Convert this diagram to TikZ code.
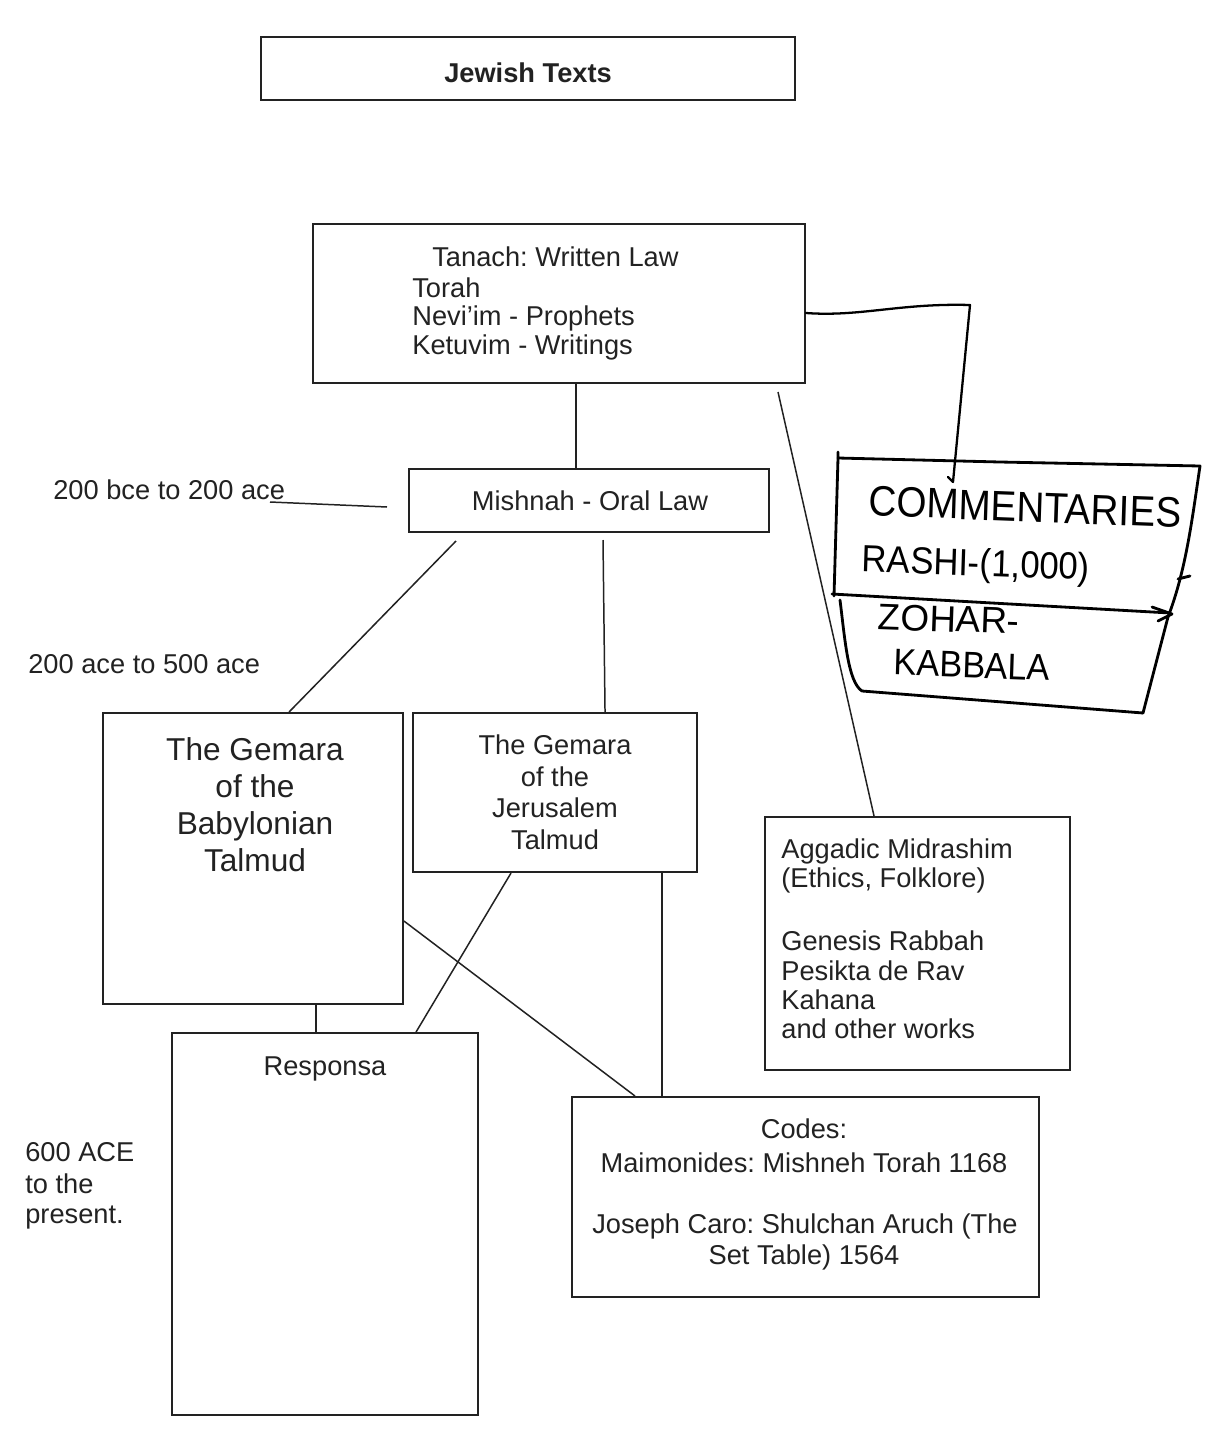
\documentclass[tikz,border=0pt]{standalone}
\usepackage{fontspec}
\setmainfont{Liberation Sans}
\newfontfamily\handfont{Liberation Sans}
\usetikzlibrary{calc}
\definecolor{ink}{HTML}{222222}
\frenchspacing
\begin{document}
\frenchspacing
\begin{tikzpicture}[x=0.02cm,y=-0.02cm,
  box/.style 2 args={draw=ink,line width=1.1pt,inner sep=0pt,
    minimum width=#1*0.02cm,minimum height=#2*0.02cm},
  txt/.style={font=\fontsize{15.5pt}{18pt}\selectfont,inner sep=0pt,text=ink},
  bigtxt/.style={font=\fontsize{18pt}{21pt}\selectfont,inner sep=0pt,text=ink},
  conn/.style={draw=ink,line width=0.85pt},
  hand/.style={draw=black,line width=1.6pt,line cap=round,line join=round},
  handtxt/.style={font=\handfont\fontsize{22pt}{24pt}\selectfont,inner sep=0pt,text=black}]
\fill[white] (0,0) rectangle (1229,1430);
\useasboundingbox (0,0) rectangle (1229,1430);

% boxes
\node[box={534}{63}] (jt) at (528,68.5) {};
\node[box={492}{159}] (tanach) at (559,303.5) {};
\node[box={360}{63}] (mishnah) at (589,500.5) {};
\node[box={300}{291}] (babylon) at (253,858.5) {};
\node[box={284}{159}] (jeru) at (555,792.5) {};
\node[box={305}{253}] (aggadic) at (917.5,943.5) {};
\node[box={306}{382}] (resp) at (325,1224) {};
\node[box={467}{200}] (codes) at (805.5,1197) {};

% texts
\node[txt,font=\fontsize{15.5pt}{18pt}\selectfont\bfseries,anchor=base] (jtt) at (528,82) {Jewish Texts};

\node[txt,anchor=base west] (tn1) at (432,266) {Tanach: Written Law};
\node[txt,anchor=base west] (tn2) at (412,297) {Torah};
\node[txt,anchor=base west] (tn3) at (412,325) {Nevi’im - Prophets};
\node[txt,anchor=base west] (tn4) at (412,354) {Ketuvim - Writings};

\node[txt,anchor=base] (mt) at (590,510) {Mishnah - Oral Law};

\node[bigtxt,anchor=base] (b1) at (255,760) {The Gemara};
\node[bigtxt,anchor=base] (b2) at (255,797) {of the};
\node[bigtxt,anchor=base] (b3) at (255,834) {Babylonian};
\node[bigtxt,anchor=base] (b4) at (255,871) {Talmud};

\node[txt,anchor=base] (j1) at (555,754) {The Gemara};
\node[txt,anchor=base] (j2) at (555,786) {of the};
\node[txt,anchor=base] (j3) at (555,817) {Jerusalem};
\node[txt,anchor=base] (j4) at (555,849) {Talmud};

\node[txt,anchor=base west] (a1) at (781,858) {Aggadic Midrashim};
\node[txt,anchor=base west] (a2) at (781,887) {(Ethics, Folklore)};
\node[txt,anchor=base west] (a3) at (781,950) {Genesis Rabbah};
\node[txt,anchor=base west] (a4) at (781,980) {Pesikta de Rav};
\node[txt,anchor=base west] (a5) at (781,1009) {Kahana};
\node[txt,anchor=base west] (a6) at (781,1038) {and other works};

\node[txt,anchor=base] (c1) at (804,1138) {Codes:};
\node[txt,anchor=base] (c2) at (804,1172) {Maimonides: Mishneh Torah 1168};
\node[txt,anchor=base] (c3) at (805,1233) {Joseph Caro: Shulchan Aruch (The};
\node[txt,anchor=base] (c4) at (804,1264) {Set Table) 1564};

\node[txt,anchor=base] (rt) at (325,1075) {Responsa};

\node[txt,anchor=base west] (d1) at (53,499) {200 bce to 200 ace};
\node[txt,anchor=base west] (d2) at (28,673) {200 ace to 500 ace};
\node[txt,anchor=base west] (d3a) at (25,1161) {600 ACE};
\node[txt,anchor=base west] (d3b) at (25,1193) {to the};
\node[txt,anchor=base west] (d3c) at (25,1223) {present.};

% connectors
\coordinate (d1a) at (270,502);
\coordinate (d1b) at (387,507);
\draw[conn] (d1a) -- (d1b);
\draw[conn] ($(tanach.south west)+(264,0)$) -- ($(mishnah.north west)+(168,0)$);
\coordinate (ms1) at (456,541);
\draw[conn] (ms1) -- ($(babylon.north west)+(187,0)$);
\coordinate (ms2) at (603,540);
\draw[conn] (ms2) -- ($(jeru.north west)+(193,0)$);
\coordinate (ts1) at (778,392);
\draw[conn] (ts1) -- ($(aggadic.north west)+(110,0)$);
\draw[conn] ($(jeru.south west)+(99,0)$) -- ($(resp.north west)+(245,0)$);
\draw[conn] ($(babylon.north east)+(0,209)$) -- ($(codes.north west)+(64,0)$);
\draw[conn] ($(jeru.south west)+(250,0)$) -- ($(codes.north west)+(91,0)$);
\draw[conn] ($(babylon.south west)+(214,0)$) -- ($(resp.north west)+(145,0)$);

% hand-drawn commentaries box
\coordinate (cm) at (953,482);
\draw[hand,line width=1.3pt] ($(tanach.east)+(0,9.5)$) .. controls (860,317) and (900,303) .. (970,305) -- (cm) -- (948,477);
\draw[hand] (838,452) -- (838,458) -- (1000,462) -- (1200,466)
  .. controls (1192,520) and (1186,570) .. (1168,617) -- (1143,713);
\draw[hand] (838,458) -- (834,596);
\draw[hand] (832,594) -- (1170,613);
\draw[hand] (1152,607) -- (1172,614) -- (1158,621);
\draw[hand] (1178,579) -- (1190,576);
\draw[hand] (840,600) .. controls (845,640) and (848,682) .. (862,691) -- (1143,713);

\node[handtxt,yscale=1.1,rotate=-2] (h1) at (1025,507) {COMMENTARIES};
\node[handtxt,font=\handfont\fontsize{21.5pt}{24pt}\selectfont,xscale=0.92,rotate=-2] (h2) at (976,566) {RASHI-(1,000)};
\node[handtxt,font=\handfont\fontsize{21pt}{24pt}\selectfont,rotate=-2] (h3) at (949,619) {ZOHAR-};
\node[handtxt,font=\handfont\fontsize{21pt}{24pt}\selectfont,xscale=0.93,rotate=-2] (h4) at (972,665) {KABBALA};
\end{tikzpicture}
\end{document}
